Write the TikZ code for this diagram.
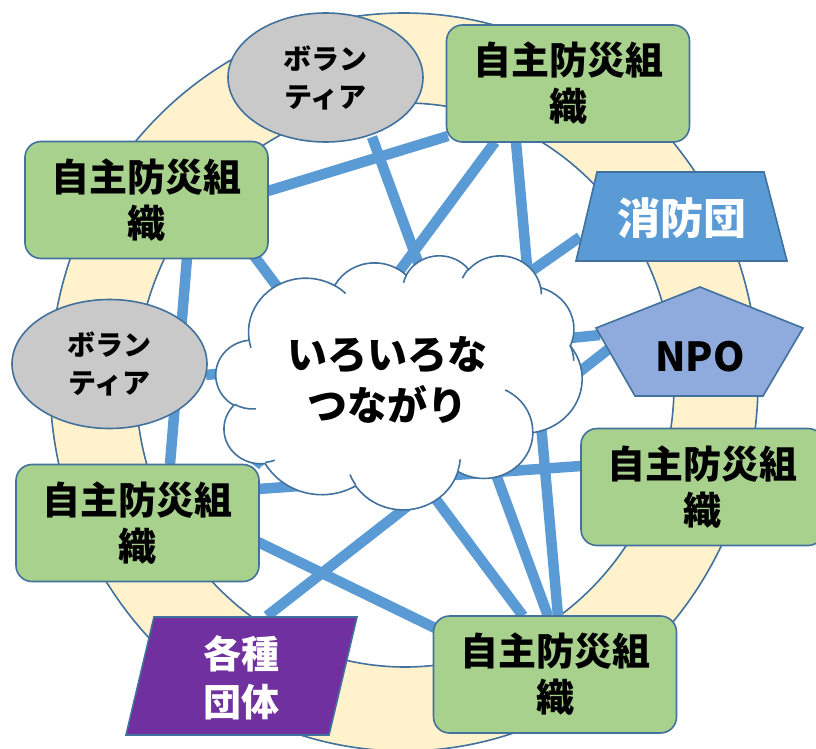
\documentclass[tikz,border=0pt]{standalone}
\usepackage{fontspec}
\newfontfamily\jp{Noto Sans CJK JP}
\usetikzlibrary{calc,shapes.geometric}
\definecolor{ringfill}{HTML}{FFF2CC}
\definecolor{edge}{HTML}{41719C}
\definecolor{linkc}{HTML}{5B9BD5}
\definecolor{grn}{HTML}{A9D18E}
\definecolor{gry}{HTML}{C9C9C9}
\definecolor{fire}{HTML}{5B9BD5}
\definecolor{npoc}{HTML}{8FAADC}
\definecolor{purp}{HTML}{7030A0}
\pgfdeclarelayer{ringlayer}
\pgfdeclarelayer{linklayer}
\pgfsetlayers{ringlayer,linklayer,main}
% DrawingML-style arc: x radius, y radius, start angle (visual), sweep (visual)
\newcommand\CA[4]{%
  \pgfextra{%
    \pgfmathparse{atan2(#1*sin(#3),#2*cos(#3))}\xdef\cAs{\pgfmathresult}%
    \pgfmathparse{atan2(#1*sin(#3+#4),#2*cos(#3+#4))}\xdef\cAe{\pgfmathresult}%
    \pgfmathparse{mod(\cAe-(\cAs)+720,360)}\xdef\cAd{\pgfmathresult}%
  }
  arc[start angle=\cAs, delta angle=\cAd, x radius=#1, y radius=#2]}
\begin{document}
\begin{tikzpicture}[x=1pt,y=-1pt,
  outl/.style={draw=edge,line width=1.6pt},
  link/.style={draw=linkc,line width=10.5pt},
  orgbox/.style={outl,fill=grn,rectangle,rounded corners=16pt,minimum width=243pt,minimum height=117pt,inner sep=0pt,align=center,font=\jp\bfseries\fontsize{38}{46}\selectfont},
  volun/.style={outl,fill=gry,ellipse,minimum width=195pt,minimum height=129pt,inner sep=0pt,align=center,font=\jp\bfseries\fontsize{28}{38}\selectfont},
  lbl/.style={inner sep=0pt,align=center}]
\useasboundingbox (0,0) rectangle (816,749);
% ring
\begin{pgfonlayer}{ringlayer}
\fill[ringfill,even odd rule] (404,382) ellipse[x radius=354,y radius=369] (405,385) ellipse[x radius=269,y radius=282];
\draw[outl] (404,382) ellipse[x radius=354,y radius=369];
\draw[outl] (405,385) ellipse[x radius=269,y radius=282];
\end{pgfonlayer}
% nodes
\node[volun] (vtop) at (325.5,77.5) {ボラン\\ティア};
\node[volun] (vleft) at (109.5,364) {ボラン\\ティア};
\node[orgbox] (tr) at (568,83.5) {自主防災組\\織};
\node[orgbox] (lt) at (146.5,200) {自主防災組\\織};
\node[orgbox] (lb) at (137.5,523) {自主防災組\\織};
\node[orgbox] (br) at (555,674.5) {自主防災組\\織};
\node[orgbox] (rt) at (702.5,487) {自主防災組\\織};
% fire brigade (trapezoid)
\filldraw[fill=fire,outl] (597,172) -- (764,172) -- (787,261) -- (576,261) -- cycle;
\node[lbl,text=white,font=\jp\bfseries\fontsize{43}{50}\selectfont] (shobo) at (681.5,218) {消防団};
% NPO (pentagon)
\filldraw[fill=npoc,outl] (700,287) -- (803,328) -- (763,396) -- (635,396) -- (596,328) -- cycle;
\node[lbl,font=\jp\bfseries\fontsize{40}{48}\selectfont] (npo) at (700,357) {NPO};
% various groups (parallelogram)
\filldraw[fill=purp,outl] (154,617) -- (357,617) -- (329,735) -- (126,735) -- cycle;
\node[lbl,text=white,font=\jp\bfseries\fontsize{38}{48}\selectfont] (kak) at (241,678) {各種\\団体};
% cloud
\begin{scope}[shift={(216,255)},x=0.847222pt,y=-0.587963pt]
\filldraw[fill=white,outl] (39.00,143.70)
  \CA{67.53}{91.90}{-190.4875}{123.7805}
  \CA{53.33}{72.67}{-144.1024}{89.9452}
  \CA{43.65}{59.45}{-145.8079}{99.7230}
  \CA{48.57}{65.95}{-130.9861}{117.2417}
  \CA{53.33}{72.73}{-78.7089}{109.0269}
  \CA{67.75}{92.20}{-46.2673}{130.2690}
  \CA{57.85}{78.67}{0.6250}{114.0333}
  \CA{67.52}{92.15}{22.4516}{115.1726}
  \CA{77.20}{105.43}{66.2426}{75.7110}
  \CA{43.60}{59.18}{-274.9421}{146.7356}
  \CA{43.45}{59.45}{-246.8285}{152.5189}
  -- cycle;
\draw[outl]
  (46.93,261.77) \CA{43.45}{59.45}{86.7420}{26.4295}
  (69.28,348.99) \CA{43.60}{59.18}{73.6105}{11.4475}
  (164.78,390.90) \CA{67.52}{92.15}{137.6242}{14.0811}
  (288.27,347.51) \CA{67.52}{92.15}{6.4533}{15.9984}
  (341.29,229.54) \CA{57.85}{78.67}{-70.2924}{70.9174}
  (417.98,153.54) \CA{53.33}{72.73}{-30.3180}{27.7515}
  (383.24,54.26) \CA{48.57}{65.95}{-13.7443}{14.8589}
  (290.78,39.52) \CA{48.57}{65.95}{-149.1815}{18.1954}
  (221.41,47.20) \CA{43.65}{59.45}{-163.4943}{17.6864}
  (140.00,51.92) \CA{67.53}{91.90}{-66.7070}{12.3194}
  (41.27,157.89) \CA{67.53}{91.90}{157.6544}{11.8582};
\end{scope}
\node[lbl,font=\jp\bfseries\fontsize{40}{51}\selectfont] (cloud) at (387,380) {いろいろな\\つながり};
% connectors
\begin{pgfonlayer}{linklayer}
\draw[link] ($(lt)+(121.5,-9)$) -- ($(tr)+(-120,52.5)$);
\draw[link] ($(vtop)+(46.5,59.5)$) -- ($(br)+(-7,-58.5)$);
\draw[link] ($(tr)+(-73,58.5)$) -- ($(lb)+(117.5,-57)$);
\draw[link] ($(tr)+(-52,58.5)$) -- ($(br)+(3,-58.5)$);
\draw[link] ($(shobo)+(-101.5,19)$) -- ($(lb)+(119.5,-60)$);
\draw[link] ($(vleft)+(96.5,11)$) -- ($(npo)+(-100,-22)$);
\draw[link] ($(kak)+(26,-62)$) -- ($(npo)+(-90,-9)$);
\draw[link] ($(lb)+(120.5,-34)$) -- ($(rt)+(-121.5,-21)$);
\draw[link] ($(lb)+(120.5,19)$) -- ($(br)+(-120,-46.5)$);
\draw[link] ($(lt)+(105.5,53)$) -- ($(br)+(-32,-58.5)$);
\draw[link] ($(lt)+(40.5,58)$) -- ($(lb)+(32.5,-59)$);
\end{pgfonlayer}
\end{tikzpicture}
\end{document}
